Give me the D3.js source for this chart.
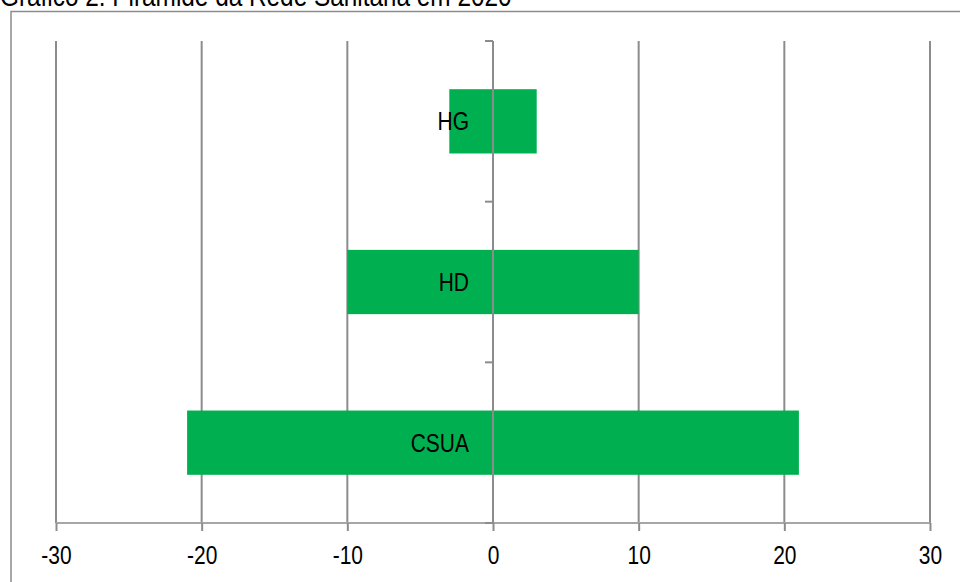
<!DOCTYPE html>
<html>
<head>
<meta charset="utf-8">
<script src="https://cdn.jsdelivr.net/npm/d3@7"></script>
<style>
  html, body { margin: 0; padding: 0; background: #fff; }
  svg { display: block; }
  text { font-family: "Liberation Sans", Arial, sans-serif; fill: #000; }
</style>
</head>
<body>
<svg id="chart" width="960" height="582"></svg>
<script>
// Rede sanitária: number of units per level, mirrored around zero
const categories = ["HG", "HD", "CSUA"];
const values = [3, 10, 21];
const xTicks = [-30, -20, -10, 0, 10, 20, 30];
const title = "Gráfico 2: Pirâmide da Rede Sanitária em 2020";

const svg = d3.select("#chart");
const W = 960, H = 582;

const plot = { left: 56, right: 930, top: 41, bottom: 523 };
const gridColor = "#8c8c8c";
const barColor = "#00b050";
const narrow = 0.84; // condensed glyph width

const x = d3.scaleLinear().domain([-30, 30]).range([plot.left, plot.right]);
const y = d3.scaleBand().domain(categories).range([plot.top, plot.bottom])
  .paddingInner(0.6).paddingOuter(0.3);

// draws condensed text anchored at (px, py)
function narrowText(parent, px, py, str, size, anchor, dy) {
  const g = parent.append("g").attr("transform", `translate(${px},${py}) scale(${narrow},1)`);
  g.append("text")
    .attr("text-anchor", anchor)
    .attr("dy", dy || 0)
    .attr("font-size", size)
    .text(str);
  return g;
}

// title
narrowText(svg, 0, 6, title, 29, "start");

// chart frame
svg.append("rect")
  .attr("x", 11).attr("y", 11.5)
  .attr("width", W + 20).attr("height", H + 20)
  .attr("fill", "none")
  .attr("stroke", gridColor)
  .attr("stroke-width", 1.5);

// vertical gridlines
svg.append("g").selectAll("line")
  .data(xTicks.filter(d => d !== 0))
  .join("line")
  .attr("x1", d => x(d)).attr("x2", d => x(d))
  .attr("y1", plot.top).attr("y2", plot.bottom)
  .attr("stroke", gridColor)
  .attr("stroke-width", 2);

// bars, symmetric around zero
svg.append("g").selectAll("rect")
  .data(categories.map((c, i) => ({ c, v: values[i] })))
  .join("rect")
  .attr("x", d => x(-d.v))
  .attr("width", d => x(d.v) - x(-d.v))
  .attr("y", d => y(d.c))
  .attr("height", y.bandwidth())
  .attr("fill", barColor);

// horizontal axis with outward ticks
const xAxis = d3.axisBottom(x).tickValues(xTicks).tickSize(8).tickFormat(d => String(d));
const gx = svg.append("g")
  .attr("transform", `translate(0,${plot.bottom})`)
  .call(xAxis);
gx.select(".domain").attr("stroke", "#a6a6a6").attr("stroke-width", 2)
  .attr("d", `M${plot.left},0H${plot.right}`);
gx.selectAll(".tick line").attr("stroke", gridColor).attr("stroke-width", 2);
gx.selectAll(".tick text").remove();
gx.selectAll(".tick").each(function (d) {
  narrowText(d3.select(this), 0, 41, String(d), 25, "middle");
});

// vertical category axis at zero
const bandEdges = [plot.top, ...categories.map(c => y(c) - y.step() * y.paddingInner() / 2 + y.step())];
const gy = svg.append("g");
gy.append("line")
  .attr("x1", x(0)).attr("x2", x(0))
  .attr("y1", plot.top).attr("y2", plot.bottom)
  .attr("stroke", gridColor).attr("stroke-width", 2);
gy.selectAll("line.tk")
  .data(bandEdges)
  .join("line")
  .attr("class", "tk")
  .attr("x1", x(0) - 8).attr("x2", x(0))
  .attr("y1", d => d).attr("y2", d => d)
  .attr("stroke", gridColor).attr("stroke-width", 2);

// category labels next to the axis
const gl = svg.append("g");
categories.forEach(c => {
  narrowText(gl, x(0) - 24, y(c) + y.bandwidth() / 2 + 9, c, 25, "end");
});
</script>
</body>
</html>
